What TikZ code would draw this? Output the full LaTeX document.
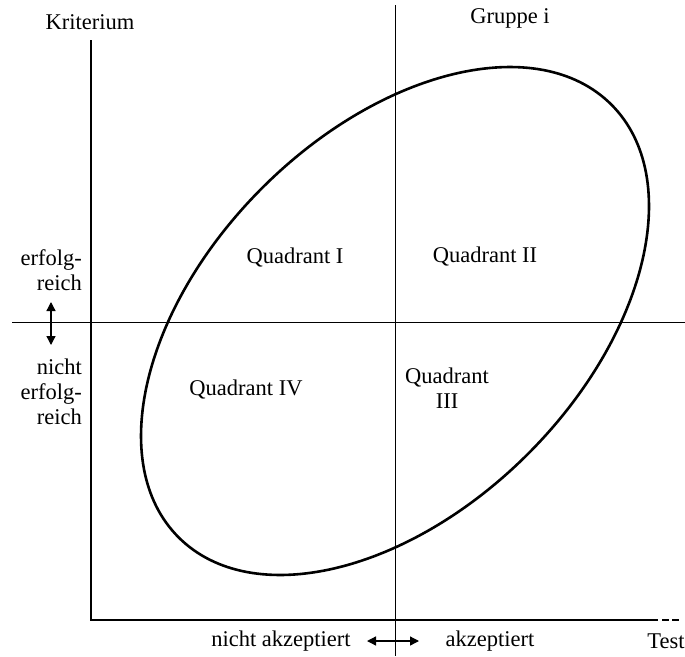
\documentclass[tikz,border=0pt]{standalone}
\usepackage{fontspec}
\setmainfont{Liberation Serif}
\usetikzlibrary{arrows.meta}
\begin{document}
\begin{tikzpicture}[x=1pt,y=-1pt,
  lbl/.style={font=\fontsize{22.5}{25}\selectfont, inner sep=0pt},
  axis/.style={line width=1.3pt},
  ell/.style={line width=2.6pt},
  dbl/.style={line width=1.3pt, {Triangle[length=9pt,width=9pt]}-{Triangle[length=9pt,width=9pt]}}]
\useasboundingbox (0,0) rectangle (685,656);
\fill[white] (0,0) rectangle (685,656);
% axes
\coordinate (yt) at (91,40);
\coordinate (o) at (91,620);
\coordinate (xe) at (658,620);
\coordinate (xd1) at (662,620);
\coordinate (xd2) at (680,620);
\draw[axis] (yt) -- (o) -- (xe);
\draw[axis, dash pattern=on 7pt off 3pt] (xd1) -- (xd2);
% dividers
\coordinate (vt) at (395,5);
\coordinate (vb) at (395,656);
\coordinate (hl) at (12,322);
\coordinate (hr) at (685,322);
\draw[axis, line width=1pt] (vt) -- (vb);
\draw[axis, line width=1pt] (hl) -- (hr);
% ellipse
\coordinate (c) at (395,321);
\draw[ell, rotate around={45:(c)}] (c) ellipse [x radius=306, y radius=188];
% labels
\node[lbl] (krit) at (90,22) {Kriterium};
\node[lbl] (grp) at (510,18) {Gruppe i};
\node[lbl, align=right, anchor=east] (erf) at (82,270) {erfolg-\\reich};
\node[lbl, align=right, anchor=east] (nerf) at (82,392) {nicht\\erfolg-\\reich};
\node[lbl] (q1) at (295,258) {Quadrant I};
\node[lbl] (q2) at (485,257) {Quadrant II};
\node[lbl] (q4) at (246,390) {Quadrant IV};
\node[lbl, align=center] (q3) at (447,388) {Quadrant\\III};
\node[lbl] (na) at (281,641) {nicht akzeptiert};
\node[lbl] (ak) at (490,641) {akzeptiert};
\node[lbl] (test) at (666,641) {Test};
% arrows
\coordinate (a1) at (51,302);
\coordinate (a2) at (51,345);
\draw[dbl] (a1) -- (a2);
\coordinate (b1) at (367,641);
\coordinate (b2) at (419,641);
\draw[dbl] (b1) -- (b2);
\end{tikzpicture}
\end{document}
